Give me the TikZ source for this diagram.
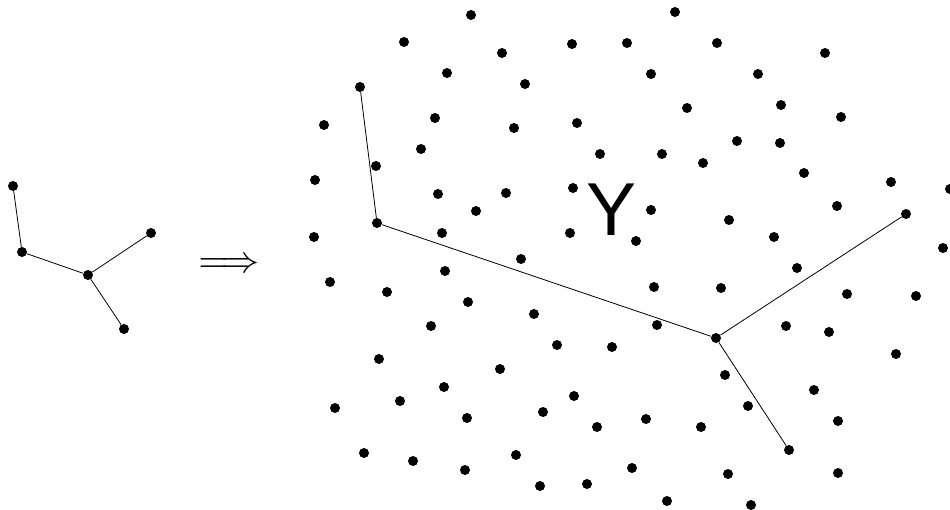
\documentclass[tikz,border=0pt]{standalone}
\usepackage{fontspec}
\setsansfont{Liberation Sans}
\def\bigimplies{\scalebox{3.8}{$\Longrightarrow$}}

\begin{document}
\begin{tikzpicture}[x=1pt,y=-1pt,
				every node/.style={inner sep=0pt},
				vtx/.style={circle, fill=black, minimum size=10pt},
				branch/.style={line width=0.8pt}]
	\useasboundingbox (0,0) rectangle (950,510);
	% small tree
	\node[vtx] (l1) at (13,186) {};
	\node[vtx] (l2) at (22,252) {};
	\node[vtx] (l3) at (88,275) {};
	\node[vtx] (l4) at (151,233) {};
	\node[vtx] (l5) at (124,329) {};
	\draw[branch] (l1) -- (l2) -- (l3) -- (l4);
	\draw[branch] (l3) -- (l5);
	\node[anchor=base] (imp) at (229,272.5) {\bigimplies};
	% big tree among the points
	\node[vtx] (r1) at (360,87) {};
	\node[vtx] (r2) at (377,223) {};
	\node[vtx] (r3) at (716,338) {};
	\node[vtx] (r4) at (906,214) {};
	\node[vtx] (r5) at (789,450) {};
	\draw[branch] (r1) -- (r2) -- (r3) -- (r4);
	\draw[branch] (r3) -- (r5);
	\foreach \x/\y [count=\i] in {471/15, 675/12, 404/42, 502/53, 572/44, 627/43,
			717/43, 825/53, 447/73, 525/84, 651/74, 758/74, 687/108, 781/105,
			435/118, 514/128, 577/123, 841/117, 324/125, 421/149, 600/154,
			662/154, 703/163, 737/141, 780/143, 376/166, 315/180, 804/173,
			438/194, 506/193, 573/188, 651/210, 891/182, 950/189, 476/211,
			837/206, 442/233, 570/233, 636/241, 729/220, 774/237, 314/237,
			943/248, 445/271, 521/259, 797/268, 330/282, 387/292, 468/302,
			654/287, 721/288, 847/294, 916/296, 534/314, 431/326, 657/325,
			786/326, 829/332, 557/345, 612/347, 379/359, 896/354, 500/369,
			725/375, 444/387, 574/396, 814/390, 400/401, 748/406, 335/408,
			467/418, 543/412, 646/419, 838/421, 597/427, 701/427, 364/453,
			413/461, 465/470, 516/455, 540/486, 587/484, 632/468, 728/474,
			838/473, 667/501, 751/505}
		\node[vtx] (d\i) at (\x,\y) {};
	\node[font=\sffamily\fontsize{75}{80}\selectfont] (ylab) at (612,210) {Y};
\end{tikzpicture}
\end{document}
